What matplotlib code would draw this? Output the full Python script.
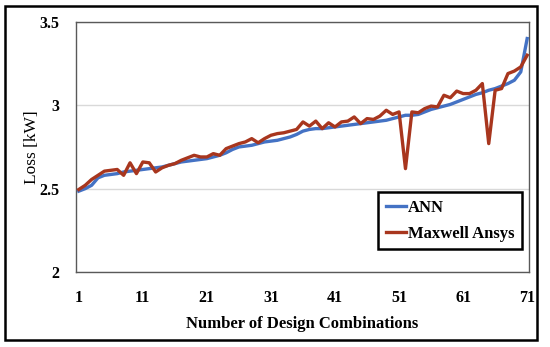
import matplotlib
matplotlib.use('Agg')
from matplotlib import pyplot as plt
from matplotlib.patches import Rectangle

# design combination index
combos = list(range(1, 72))

ann = [2.485, 2.50, 2.52, 2.565, 2.58, 2.585, 2.59, 2.60, 2.605, 2.61,
       2.615, 2.62, 2.625, 2.63, 2.64, 2.65, 2.66, 2.665, 2.67, 2.675,
       2.68, 2.69, 2.70, 2.715, 2.735, 2.75, 2.755, 2.76, 2.77, 2.78,
       2.785, 2.79, 2.80, 2.81, 2.825, 2.845, 2.855, 2.86, 2.86, 2.865,
       2.87, 2.875, 2.88, 2.885, 2.89, 2.895, 2.90, 2.905, 2.91, 2.92,
       2.93, 2.94, 2.94, 2.945, 2.96, 2.975, 2.985, 2.995, 3.005, 3.02,
       3.035, 3.05, 3.065, 3.075, 3.09, 3.10, 3.115, 3.13, 3.15, 3.20,
       3.40]

maxwell = [2.495, 2.52, 2.555, 2.58, 2.605, 2.61, 2.615, 2.58, 2.655, 2.59,
           2.66, 2.655, 2.60, 2.625, 2.64, 2.65, 2.67, 2.685, 2.70, 2.69,
           2.69, 2.71, 2.70, 2.74, 2.755, 2.77, 2.78, 2.80, 2.775, 2.80,
           2.82, 2.83, 2.835, 2.845, 2.855, 2.90, 2.875, 2.905, 2.86, 2.895,
           2.87, 2.90, 2.905, 2.93, 2.89, 2.92, 2.915, 2.935, 2.97, 2.945,
           2.96, 2.62, 2.96, 2.955, 2.98, 2.995, 2.99, 3.06, 3.045, 3.085,
           3.07, 3.07, 3.09, 3.13, 2.77, 3.09, 3.10, 3.19, 3.205, 3.23,
           3.30]

x_ticks = [1, 11, 21, 31, 41, 51, 61, 71]
y_ticks = [2, 2.5, 3, 3.5]

plt.rcParams['font.family'] = ['Liberation Serif', 'DejaVu Serif']

fig = plt.figure(figsize=(5.5, 3.47), dpi=100)
ax = fig.add_axes([0.138, 0.216, 0.824, 0.721])

ax.plot(combos, ann, color='#4472C4', linewidth=2.4, label='ANN', zorder=3)
ax.plot(combos, maxwell, color='#A8361E', linewidth=2.4, label='Maxwell Ansys', zorder=4)

ax.set_xlim(0.55, 71.3)
ax.set_ylim(2, 3.5)
ax.set_xticks(x_ticks)
ax.set_yticks(y_ticks)
ax.set_yticklabels(['2', '2.5', '3', '3.5'])
ax.tick_params(length=0, labelsize=11.5)
for lab in ax.get_xticklabels() + ax.get_yticklabels():
    lab.set_fontweight('bold')
ax.tick_params(axis='x', pad=13)
ax.tick_params(axis='y', pad=12)

ax.grid(axis='y', color='#D9D9D9', linewidth=1)
ax.set_axisbelow(True)
for s in ax.spines.values():
    s.set_color('#595959')
    s.set_linewidth(1)

ax.set_xlabel('Number of Design Combinations', fontsize=12, fontweight='bold', labelpad=7)
ax.set_ylabel('Loss [kW]', fontsize=12.5)
ax.yaxis.set_label_coords(-0.08, 0.5)

leg = ax.legend(loc='lower right', bbox_to_anchor=(0.985, 0.092), borderaxespad=0,
                prop={'weight': 'bold', 'size': 12}, fancybox=False,
                edgecolor='black', framealpha=1, handlelength=1.2,
                handletextpad=0.15, borderpad=0.45, labelspacing=0.6)
leg.get_frame().set_linewidth(1.8)

# outer border around the whole figure
fig.patches.append(Rectangle((5 / 550, 7 / 347), 532 / 550, 334 / 347,
                             transform=fig.transFigure, fill=False,
                             edgecolor='black', linewidth=1.8))

fig.savefig('out.png', dpi=100)
